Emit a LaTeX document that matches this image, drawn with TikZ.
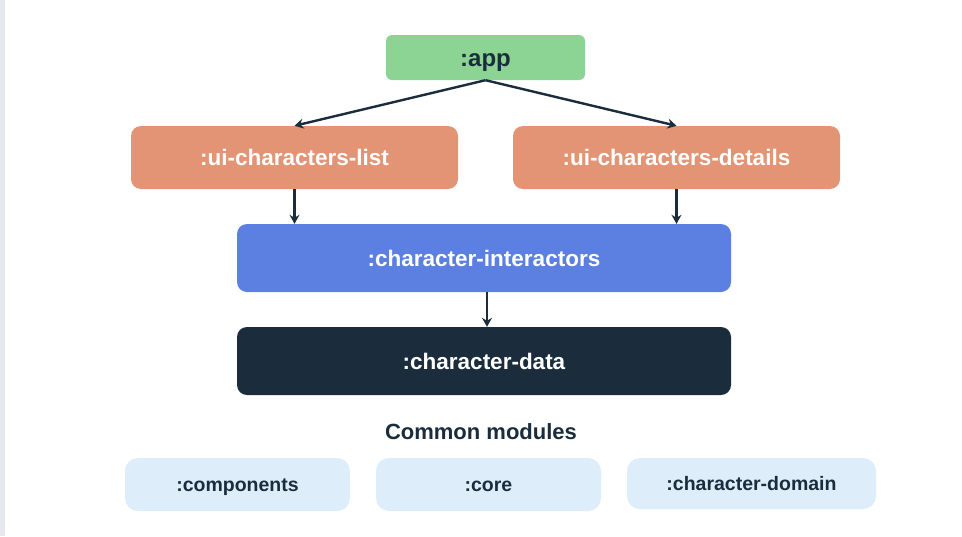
\documentclass[tikz,border=0pt]{standalone}
\usepackage{fontspec}
\setmainfont{Liberation Sans}
\usetikzlibrary{arrows.meta}

\definecolor{appgreen}{HTML}{8BD493}
\definecolor{uiorange}{HTML}{E39475}
\definecolor{interblue}{HTML}{5B80E2}
\definecolor{datanavy}{HTML}{1B2D3C}
\definecolor{commonblue}{HTML}{DDEDFA}
\definecolor{edgegrey}{HTML}{E7E8ED}

\begin{document}
\begin{tikzpicture}[x=1pt,y=-1pt,
    module/.style={rounded corners=10pt, inner sep=0pt, text height=16pt, text depth=0pt,
      font=\bfseries\fontsize{22.5}{26}\selectfont},
    common/.style={module, fill=commonblue, text=datanavy, rounded corners=13pt,
      minimum height=53pt, text height=14pt, font=\bfseries\fontsize{19.5}{23}\selectfont},
    dep/.style={draw=datanavy, line width=2.4pt, -{Stealth[length=9pt,width=10pt,inset=3pt]}}]
        % Page and left edge
        \useasboundingbox (0,0) rectangle (962,536);
        \fill[white] (0,0) rectangle (962,536);
        \fill[edgegrey] (0,0) rectangle (5,536);

        % Draw the modules
        \node[module, fill=appgreen, text=datanavy, rounded corners=6pt, minimum width=199pt, minimum height=45pt,
          text height=17pt, font=\bfseries\fontsize{24}{28}\selectfont] (app) at (485.5,57.5) {:app};
        \node[module, fill=uiorange, text=white, minimum width=327pt, minimum height=63pt] (uilist) at (294.5,157.5) {:ui-characters-list};
        \node[module, fill=uiorange, text=white, minimum width=327pt, minimum height=63pt] (uidetails) at (676.5,157.5) {:ui-characters-details};
        \node[module, fill=interblue, text=white, minimum width=494pt, minimum height=68pt] (interactors) at (484,258) {:character-interactors};
        \node[module, fill=datanavy, text=white, minimum width=494pt, minimum height=68pt] (data) at (484,361) {:character-data};

        % Draw the dependencies
        \draw[dep] (app.south) -- (uilist.north);
        \draw[dep] (app.south) -- (uidetails.north);
        \draw[dep] (uilist.south) -- (uilist.south |- interactors.north);
        \draw[dep] (uidetails.south) -- (uidetails.south |- interactors.north);
        \draw[dep] (interactors.south -| 487,0) -- (data.north -| 487,0);

        % Common modules
        \node[text=datanavy, inner sep=0pt, text height=15.5pt, text depth=0pt,
          font=\bfseries\fontsize{22}{26}\selectfont] (commonlabel) at (481,432) {Common modules};
        \node[common, minimum width=225pt] (components) at (237.5,484.5) {:components};
        \node[common, minimum width=225pt] (core) at (488.5,484.5) {:core};
        \node[common, minimum width=249pt, minimum height=51pt] (domain) at (751.5,483.5) {:character-domain};
    \end{tikzpicture}
\end{document}
